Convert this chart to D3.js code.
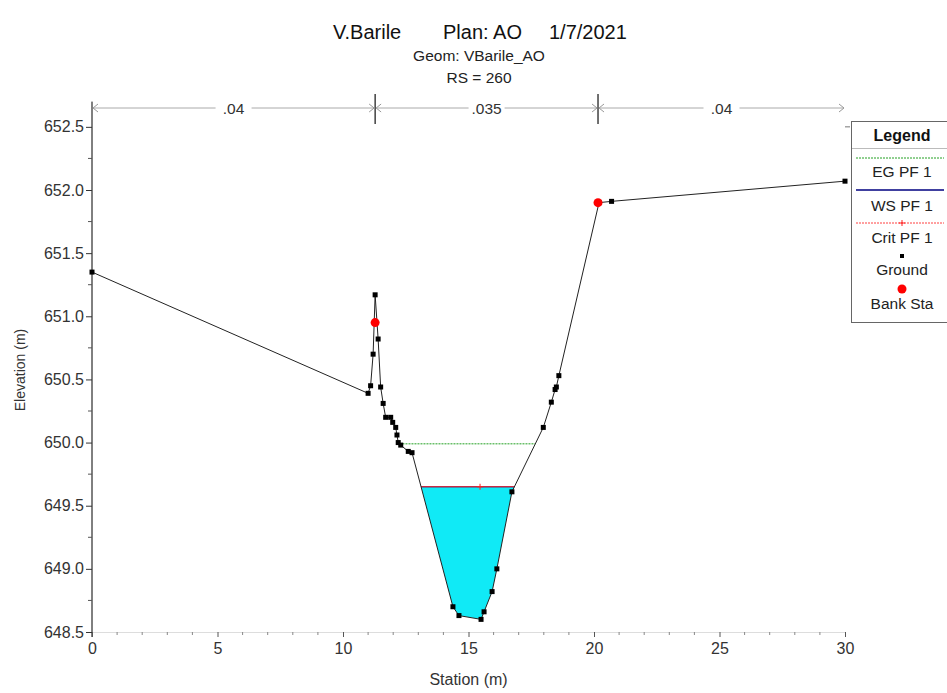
<!DOCTYPE html>
<html><head><meta charset="utf-8">
<script src="https://cdn.jsdelivr.net/npm/d3@7"></script>
<style>
body{margin:0;background:#fff;}
svg{display:block;font-family:"Liberation Sans",Arial,sans-serif;}
</style></head>
<body><svg id="c" width="947" height="693"></svg>
<script>
// ---- data ----
const stations   = [0, 11.0, 11.1, 11.2, 11.28, 11.4, 11.5, 11.6, 11.7, 11.9, 11.98, 12.1, 12.15, 12.2, 12.3, 12.6, 12.75, 14.38, 14.62, 15.5, 15.62, 15.94, 16.13, 16.73, 17.98, 18.3, 18.45, 18.5, 18.6, 20.2, 20.7, 30.0];
const elevations = [651.35, 650.39, 650.45, 650.70, 651.17, 650.82, 650.44, 650.31, 650.20, 650.20, 650.16, 650.12, 650.06, 650.00, 649.98, 649.93, 649.92, 648.70, 648.63, 648.60, 648.66, 648.82, 649.00, 649.61, 650.12, 650.32, 650.42, 650.44, 650.53, 651.90, 651.91, 652.07];
const bankStations = [11.28, 20.16];
const bankElevations = [650.95, 651.90];
const manningValues = [".04", ".035", ".04"];
const manningBounds = [0, 11.28, 20.16, 30];
const wsElev = 649.65;
const egElev = 649.99;
const critElev = 649.65;
const critStation = 15.46;
const yTickValues = [648.5, 649.0, 649.5, 650.0, 650.5, 651.0, 651.5, 652.0, 652.5];
const xTickValues = [0, 5, 10, 15, 20, 25, 30];
const legendItems = ["EG PF 1", "WS PF 1", "Crit PF 1", "Ground", "Bank Sta"];
const titleParts = ["V.Barile", "Plan: AO", "1/7/2021"];

// ---- scales ----
const svg = d3.select("#c");
const x = d3.scaleLinear().domain([0, 30]).range([92, 845]);
const y = d3.scaleLinear().domain([648.5, 652.7]).range([632, 101.6]);
const ground = stations.map((s, i) => [s, elevations[i]]);

// ---- titles ----
const titleX = [333, 443, 549];
titleParts.forEach((t, i) => {
  svg.append("text").attr("x", titleX[i]).attr("y", 39).attr("font-size", 20)
    .attr("fill", "#111").text(t);
});
svg.append("text").attr("x", 479).attr("y", 61).attr("text-anchor", "middle")
  .attr("font-size", 15.5).attr("fill", "#222").text("Geom: VBarile_AO");
svg.append("text").attr("x", 479).attr("y", 83).attr("text-anchor", "middle")
  .attr("font-size", 15.5).attr("fill", "#222").text("RS = 260");

// ---- crossings helper ----
function crossings(level) {
  const out = [];
  for (let i = 0; i < ground.length - 1; i++) {
    const [s0, e0] = ground[i], [s1, e1] = ground[i + 1];
    if ((e0 - level) * (e1 - level) < 0) {
      out.push({i, s: s0 + (level - e0) / (e1 - e0) * (s1 - s0)});
    }
  }
  return out;
}

// ---- water fill ----
{
  const cr = crossings(wsElev);
  const left = cr[0], right = cr[cr.length - 1];
  const poly = [[left.s, wsElev]];
  for (let i = left.i + 1; i <= right.i; i++) poly.push(ground[i]);
  poly.push([right.s, wsElev]);
  svg.append("path").attr("d", d3.line().x(d => x(d[0])).y(d => y(d[1]))(poly) + "Z")
    .attr("fill", "#10eaf6").attr("stroke", "none");
  svg.append("line").attr("x1", x(left.s)).attr("x2", x(right.s))
    .attr("y1", y(wsElev)).attr("y2", y(wsElev)).attr("stroke", "#000080").attr("stroke-width", 1);
  svg.append("line").attr("x1", x(left.s)).attr("x2", x(right.s))
    .attr("y1", y(critElev)).attr("y2", y(critElev)).attr("stroke", "#ff2020").attr("stroke-width", 1);
  svg.append("path").attr("d", `M${x(critStation)-3},${y(critElev)}h6M${x(critStation)},${y(critElev)-3}v6`)
    .attr("stroke", "#ff2020").attr("stroke-width", 1);
}

// ---- EG line ----
{
  const cr = crossings(egElev);
  const l = cr[0].s, r = cr[cr.length - 1].s;
  svg.append("line").attr("x1", x(l)).attr("x2", x(r)).attr("y1", y(egElev)).attr("y2", y(egElev))
    .attr("stroke", "#22a022").attr("stroke-width", 1).attr("stroke-dasharray", "2,1");
}

// ---- axes ----
const yAxis = d3.axisLeft(y).tickValues(yTickValues).tickFormat(d3.format(".1f")).tickSize(6).tickSizeOuter(0);
const gy = svg.append("g").attr("transform", "translate(92,0)").call(yAxis);
gy.select(".domain").attr("d", `M0,${y(648.5)+5}V${y(652.7)}`).attr("stroke", "#000");
gy.selectAll(".tick text").attr("font-size", 16).attr("fill", "#333").attr("x", -8).attr("font-family", "Liberation Sans, Arial");
gy.selectAll(".tick line").attr("stroke", "#333");
const yMinor = d3.range(648.75, 652.6, 0.5);
svg.append("g").selectAll("line").data(yMinor).join("line")
  .attr("x1", 88).attr("x2", 92).attr("y1", d => y(d)).attr("y2", d => y(d)).attr("stroke", "#555");

const xAxis = d3.axisBottom(x).tickValues(xTickValues).tickSize(5).tickSizeOuter(0);
const gx = svg.append("g").attr("transform", `translate(0,${y(648.5)})`).call(xAxis);
gx.select(".domain").attr("stroke", "#ddd");
gx.selectAll(".tick line").attr("stroke", "#555");
gx.selectAll(".tick text").attr("font-size", 16).attr("fill", "#333").attr("dy", "0.85em").attr("font-family", "Liberation Sans, Arial");
svg.append("g").selectAll("line").data(d3.range(1, 30).filter(d => d % 5 !== 0)).join("line")
  .attr("x1", d => x(d)).attr("x2", d => x(d)).attr("y1", y(648.5)).attr("y2", y(648.5) + 3).attr("stroke", "#888");

svg.append("text").attr("transform", `translate(25,370) rotate(-90)`).attr("text-anchor", "middle")
  .attr("font-size", 14).attr("fill", "#333").text("Elevation (m)");
svg.append("text").attr("x", x(15)).attr("y", 685).attr("text-anchor", "middle")
  .attr("font-size", 16).attr("fill", "#333").text("Station (m)");

// ---- manning's n ----
const nY = 108;
bankStations.forEach(s => {
  svg.append("line").attr("x1", x(s)).attr("x2", x(s)).attr("y1", 94).attr("y2", 124).attr("stroke", "#111").attr("stroke-width", 1.2);
});
manningValues.forEach((v, i) => {
  const a = x(manningBounds[i]) + 1, b = x(manningBounds[i + 1]) - 1;
  svg.append("line").attr("x1", a).attr("x2", b).attr("y1", nY).attr("y2", nY).attr("stroke", "#aaa");
  svg.append("path").attr("d", `M${a+5},${nY-4}L${a},${nY}L${a+5},${nY+4}M${b-5},${nY-4}L${b},${nY}L${b-5},${nY+4}`)
    .attr("fill", "none").attr("stroke", "#999");
  const mx = (a + b) / 2;
  svg.append("rect").attr("x", mx - 18).attr("y", nY - 8).attr("width", 36).attr("height", 16).attr("fill", "#fff");
  svg.append("text").attr("x", mx).attr("y", nY + 5.5).attr("text-anchor", "middle")
    .attr("font-size", 15.5).attr("fill", "#333").text(v);
});
svg.append("line").attr("x1", x(30)).attr("x2", x(30)+5).attr("y1", y(652.5)).attr("y2", y(652.5)).attr("stroke", "#777");

// ---- ground line & points ----
svg.append("path").datum(ground).attr("d", d3.line().x(d => x(d[0])).y(d => y(d[1])))
  .attr("fill", "none").attr("stroke", "#222").attr("stroke-width", 1);
svg.append("g").selectAll("rect").data(ground).join("rect")
  .attr("x", d => x(d[0]) - 2.5).attr("y", d => y(d[1]) - 2.5).attr("width", 5).attr("height", 5).attr("fill", "#000");
svg.append("g").selectAll("circle").data(bankStations).join("circle")
  .attr("cx", d => x(d)).attr("cy", (d, i) => y(bankElevations[i])).attr("r", 4.5).attr("fill", "#ff0000");

// ---- legend ----
const lg = svg.append("g");
lg.append("rect").attr("x", 851.5).attr("y", 121.5).attr("width", 100).attr("height", 201)
  .attr("fill", "#fff").attr("stroke", "#666");
lg.append("text").attr("x", 902).attr("y", 141).attr("text-anchor", "middle").attr("font-size", 16)
  .attr("font-weight", "bold").attr("fill", "#111").text("Legend");
lg.append("line").attr("x1", 852).attr("x2", 947).attr("y1", 148.5).attr("y2", 148.5).attr("stroke", "#bbb");
const lineY = [158, 190, 223];
lg.append("line").attr("x1", 856).attr("x2", 944).attr("y1", lineY[0]).attr("y2", lineY[0]).attr("stroke", "#22a022").attr("stroke-dasharray", "2,1");
lg.append("line").attr("x1", 856).attr("x2", 944).attr("y1", lineY[1]).attr("y2", lineY[1]).attr("stroke", "#000080").attr("stroke-width", 1.3);
lg.append("line").attr("x1", 856).attr("x2", 944).attr("y1", lineY[2]).attr("y2", lineY[2]).attr("stroke", "#ff4040").attr("stroke-dasharray", "2,1");
lg.append("path").attr("d", `M899,${lineY[2]}h6M902,${lineY[2]-3}v6`).attr("stroke", "#ff2020");
lg.append("rect").attr("x", 900).attr("y", 254).attr("width", 4).attr("height", 4).attr("fill", "#000");
lg.append("circle").attr("cx", 902).attr("cy", 289).attr("r", 4.5).attr("fill", "#ff0000");
const tY = [177, 211, 243, 275, 309];
legendItems.forEach((t, i) => {
  lg.append("text").attr("x", 902).attr("y", tY[i]).attr("text-anchor", "middle").attr("font-size", 15.5)
    .attr("fill", "#222").text(t);
});
</script></body></html>
